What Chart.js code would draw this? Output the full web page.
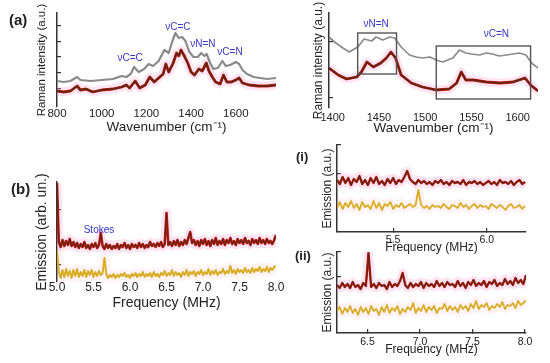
<!DOCTYPE html>
<html>
<head>
<meta charset="utf-8">
<script src="https://cdn.jsdelivr.net/npm/chart.js@4"></script>
<style>
  body { margin: 0; background: #fff; width: 550px; height: 363px; position: relative; overflow: hidden; font-family: 'Liberation Sans', Arial, sans-serif; }
  canvas { position: absolute; }
  .tag { position: absolute; font-weight: bold; color: #222; line-height: 1; }
</style>
</head>
<body>
<canvas id="ramanWide" width="290" height="140" style="left:0;top:0"></canvas>
<canvas id="ramanZoom" width="260" height="140" style="left:290px;top:0"></canvas>
<canvas id="emisB" width="290" height="165" style="left:0;top:150px"></canvas>
<canvas id="emisI" width="260" height="125" style="left:290px;top:135px"></canvas>
<canvas id="emisII" width="260" height="118" style="left:290px;top:245px"></canvas>
<div class="tag" style="left:9px;top:12px;font-size:15px">(a)</div>
<div class="tag" style="left:11px;top:181px;font-size:15px">(b)</div>
<div class="tag" style="left:296px;top:150px;font-size:13px">(i)</div>
<div class="tag" style="left:295px;top:249px;font-size:13px">(ii)</div>
<script>
// ---- (a) full Raman spectrum ----
const wnGrayA = [800, 830, 860, 890, 905, 950, 1000, 1050, 1090, 1110, 1130, 1145, 1165, 1190, 1210, 1230, 1255, 1280, 1300, 1315, 1330, 1345, 1360, 1375, 1390, 1410, 1430, 1445, 1460, 1470, 1485, 1500, 1520, 1540, 1555, 1575, 1600, 1615, 1630, 1650, 1680, 1710, 1740, 1780];
const ramanGrayA = [26, 25, 26, 30, 27, 26, 27, 28, 31, 30, 33, 40, 35, 38, 43, 41, 46, 57, 54, 65, 74, 69, 70, 66, 56, 50, 50, 54, 51, 53, 44, 38, 39, 46, 41, 42, 45, 43, 37, 33, 30, 29, 28, 29];
const wnRedA = [800, 830, 860, 890, 905, 930, 960, 1000, 1050, 1090, 1110, 1125, 1150, 1170, 1195, 1215, 1235, 1255, 1275, 1287, 1300, 1320, 1335, 1345, 1355, 1372, 1385, 1400, 1415, 1435, 1450, 1468, 1480, 1495, 1510, 1530, 1545, 1560, 1580, 1600, 1615, 1630, 1660, 1700, 1740, 1780];
const ramanRedA = [16, 15, 16, 21, 17, 18, 15, 17, 18, 20, 22, 19, 26, 19, 22, 30, 25, 29, 33, 43, 35, 44, 54, 51, 57, 50, 44, 35, 32, 38, 36, 44, 36, 30, 25, 23, 32, 25, 25, 27, 29, 24, 22, 21, 21, 22];
const xTicksA = [800, 1000, 1200, 1400, 1600];
const bandNamesA = ['νC=C', 'νC=C', 'νN=N', 'νC=N'];
const bandWnA = [1127, 1341, 1453, 1574];
const bandLevelA = [49, 80, 63, 55];

// ---- (a) zoomed Raman spectrum ----
const wnGrayZ = [1396, 1402, 1411, 1418, 1427, 1434, 1442, 1447, 1454, 1462, 1467, 1474, 1483, 1490, 1497, 1505, 1512, 1519, 1530, 1537, 1544, 1550, 1559, 1566, 1573, 1580, 1588, 1595, 1602, 1609, 1615, 1622];
const ramanGrayZ = [71, 66, 60, 56, 61, 69, 67, 71, 68, 71, 70, 61, 53, 51, 50, 51, 48, 46, 50, 58, 55, 54, 53, 55, 54, 52, 53, 54, 55, 53, 45, 40];
const wnRedZ = [1396, 1406, 1415, 1426, 1431, 1437, 1444, 1452, 1458, 1463, 1468, 1474, 1485, 1497, 1512, 1526, 1534, 1539, 1544, 1552, 1566, 1581, 1595, 1608, 1614, 1622];
const ramanRedZ = [40, 33, 29, 31, 36, 46, 41, 45, 50, 56, 50, 33, 25, 21, 18, 19, 25, 36, 28, 28, 26, 25, 26, 30, 23, 17];
const xTicksZ = [1400, 1450, 1500, 1550, 1600];
const bandNamesZ = ['νN=N', 'νC=N'];
const bandWnZ = [1447, 1577];
const bandLevelZ = [84, 74];
const boxesZ = [[1427, 1469, 75, 34], [1512, 1614, 62, 9]];

// ---- (b) emission 5.0 - 8.0 MHz ----
const freqStartB = 5.0, freqStepB = 0.025;
const emisRedB = [
  99, 40, 35, 42, 36, 41, 37, 43, 36, 40,
  35, 39, 34, 38, 35, 40, 34, 37, 33, 38,
  35, 39, 34, 37, 49, 36, 33, 38, 34, 37,
  33, 36, 34, 38, 33, 37, 35, 39, 34, 37,
  33, 38, 35, 37, 34, 39, 35, 38, 34, 37,
  35, 40, 36, 38, 35, 39, 36, 40, 35, 38,
  69, 37, 40, 36, 41, 37, 42, 36, 40, 37,
  42, 38, 44, 50, 39, 42, 37, 41, 36, 42,
  38, 43, 37, 41, 36, 42, 38, 44, 37, 41,
  38, 43, 37, 42, 39, 44, 38, 41, 37, 43,
  39, 42, 38, 44, 39, 41, 37, 43, 39, 42,
  38, 44, 39, 42, 38, 43, 39, 41, 38, 42,
  47
];
const emisYellowB = [
  32, 10, 4, 12, 5, 13, 6, 11, 4, 12,
  6, 13, 5, 10, 6, 12, 5, 11, 7, 12,
  5, 10, 6, 11, 7, 9, 24, 8, 4, 7,
  5, 8, 4, 7, 5, 8, 6, 9, 5, 7,
  4, 8, 6, 9, 5, 8, 6, 10, 5, 8,
  6, 9, 5, 10, 6, 8, 5, 9, 7, 11,
  6, 9, 7, 12, 6, 10, 7, 9, 5, 10,
  7, 12, 6, 10, 8, 11, 6, 10, 8, 12,
  7, 10, 8, 13, 7, 11, 8, 12, 7, 10,
  9, 13, 8, 11, 9, 16, 9, 12, 8, 13,
  10, 12, 9, 14, 10, 12, 9, 14, 10, 13,
  11, 15, 10, 13, 11, 15, 10, 14, 12, 15,
  16
];
const xTicksB = [5.0, 5.5, 6.0, 6.5, 7.0, 7.5, 8.0];

// ---- (i) emission 5.2 - 6.2 MHz ----
const freqStartI = 5.2, freqStepI = 0.015;
const emisRedI = [
  52, 48, 55, 49, 54, 47, 53, 50, 56, 48,
  52, 47, 54, 49, 55, 48, 51, 47, 53, 49,
  54, 48, 52, 50, 55, 61, 53, 50, 48, 52,
  49, 51, 48, 50, 47, 51, 49, 52, 48, 50,
  47, 51, 49, 50, 48, 52, 47, 50, 49, 51,
  48, 50, 47, 49, 51, 48, 50, 47, 52, 49,
  50, 48, 51, 47, 50, 52, 48, 50
];
const emisYellowI = [
  24, 30, 23, 29, 25, 31, 24, 28, 22, 30,
  25, 27, 23, 31, 24, 29, 22, 28, 26, 30,
  23, 27, 25, 29, 24, 26, 28, 25, 27, 42,
  27, 24, 26, 23, 27, 25, 26, 24, 28, 25,
  23, 27, 26, 24, 29, 25, 27, 23, 26, 28,
  24, 27, 25, 26, 23, 28, 26, 24, 27, 25,
  22, 26, 28, 24, 25, 27, 23, 26
];
const xTicksI = [5.5, 6.0];

// ---- (ii) emission 6.2 - 8.0 MHz ----
const freqStartII = 6.21, freqStepII = 0.025;
const emisRedII = [
  48, 45, 50, 46, 49, 45, 51, 46, 48, 44,
  50, 47, 80, 46, 49, 45, 50, 47, 48, 44,
  51, 46, 49, 47, 52, 60, 48, 45, 50, 46,
  49, 47, 51, 45, 50, 47, 49, 46, 52, 47,
  50, 46, 51, 48, 49, 46, 52, 47, 50, 45,
  51, 48, 53, 47, 50, 48, 52, 46, 51, 49,
  53, 47, 50, 48, 54, 49, 52, 48, 55, 50,
  53, 49, 58
];
const emisYellowII = [
  22, 26, 19, 25, 21, 27, 20, 24, 18, 26,
  21, 25, 19, 27, 22, 24, 18, 26, 21, 28,
  20, 25, 22, 27, 19, 24, 21, 26, 23, 30,
  20, 25, 22, 28, 21, 26, 23, 27, 20, 25,
  24, 29, 22, 27, 23, 26, 21, 28, 24, 27,
  22, 29, 25, 32, 24, 28, 26, 30, 23, 27,
  25, 29, 26, 31, 24, 28, 27, 30, 25, 32,
  28, 30, 33
];
const xTicksII = [6.5, 7.0, 7.5, 8.0];

Chart.defaults.font.family = "'Liberation Sans', Arial, sans-serif";
Chart.defaults.color = '#222';

const pairs = (xs, ys) => ys.map((v, i) => ({ x: xs[i], y: v }));
const sampled = (start, step, ys) => ys.map((v, i) => ({ x: start + step * i, y: v }));

const GRAY = '#8a8a8a', BROWN = '#6a2410', RED = '#cf1a1a', YELLOW = '#d9ad22';

function trace(data, color, width, order) {
  return { data, borderColor: color, borderWidth: width, pointRadius: 0, fill: false, order, borderJoinStyle: 'round' };
}
const halo = (data, a) => trace(data, 'rgba(255,170,212,' + a + ')', 9, 9);

// blue band names + boxes, placed in data coordinates
const notes = {
  id: 'notes',
  afterDatasetsDraw(chart, args, o) {
    const { ctx, scales: { x, y } } = chart;
    ctx.save();
    ctx.strokeStyle = '#555';
    ctx.lineWidth = 1.4;
    (o.boxes || []).forEach(b => {
      const x0 = x.getPixelForValue(b[0]), x1 = x.getPixelForValue(b[1]);
      const y0 = y.getPixelForValue(b[2]), y1 = y.getPixelForValue(b[3]);
      ctx.strokeRect(x0, y0, x1 - x0, y1 - y0);
    });
    ctx.fillStyle = '#3535c8';
    ctx.font = (o.size || 10) + "px 'Liberation Sans', Arial, sans-serif";
    ctx.textAlign = 'center';
    ctx.textBaseline = 'middle';
    (o.names || []).forEach((t, i) => ctx.fillText(t, x.getPixelForValue(o.xs[i]), y.getPixelForValue(o.ys[i])));
    ctx.restore();
  }
};

function panel(id, p) {
  new Chart(document.getElementById(id), {
    type: 'line',
    data: { datasets: p.datasets },
    plugins: [notes],
    options: {
      responsive: false,
      animation: false,
      layout: { padding: p.pad },
      plugins: { legend: { display: false }, tooltip: { enabled: false }, notes: p.notes || {} },
      scales: {
        x: {
          type: 'linear', min: p.xmin, max: p.xmax,
          afterBuildTicks: s => { s.ticks = p.xticks.map(v => ({ value: v })); },
          afterFit: s => { s.height = p.xh; },
          ticks: { font: { size: p.tickSize }, padding: p.tickPad, callback: v => p.dec ? v.toFixed(p.dec) : String(v) },
          grid: { display: p.xline, drawOnChartArea: false, drawTicks: p.xline, tickLength: -4, color: '#333', lineWidth: 1.2 },
          border: { display: p.xline, color: '#333', width: 1.5 },
          title: { display: true, text: p.xtitle, font: { size: p.xtSize }, padding: { top: 0, bottom: 0 } }
        },
        y: {
          min: 0, max: p.ymax,
          afterBuildTicks: s => { s.ticks = p.yticks.map(v => ({ value: v })); },
          afterFit: s => { s.width = p.yw; },
          ticks: { display: false },
          grid: { display: true, drawOnChartArea: false, drawTicks: true, tickLength: -4, color: '#333', lineWidth: 1.2 },
          border: { display: true, color: '#333', width: 1.5 },
          title: { display: true, text: p.ytitle, font: { size: p.ytSize }, padding: { top: 1, bottom: 0 } }
        }
      }
    }
  });
}

const grayA = pairs(wnGrayA, ramanGrayA), redA = pairs(wnRedA, ramanRedA);
panel('ramanWide', {
  datasets: [trace(redA, BROWN, 2, 0), trace(redA, RED, 2.8, 1), trace(grayA, GRAY, 2.2, 2), halo(redA, 0.3)],
  pad: { left: 34, top: 13, right: 14, bottom: 4.9 },
  xmin: 800, xmax: 1780, xticks: xTicksA, xh: 28.1, tickSize: 11.5, tickPad: 0, xline: false,
  xtitle: 'Wavenumber (cm⁻¹)', xtSize: 13.5,
  ymax: 94, yticks: [18, 34, 50, 65, 81], yw: 23, ytitle: 'Raman intensity (a.u.)', ytSize: 11.5,
  notes: { names: bandNamesA, xs: bandWnA, ys: bandLevelA, size: 10 }
});

const grayZ = pairs(wnGrayZ, ramanGrayZ), redZ = pairs(wnRedZ, ramanRedZ);
panel('ramanZoom', {
  datasets: [trace(redZ, BROWN, 2, 0), trace(redZ, RED, 2.8, 1), trace(grayZ, GRAY, 1.7, 2), halo(redZ, 0.3)],
  pad: { left: 20, top: 13, right: 12, bottom: 3.9 },
  xmin: 1396, xmax: 1622, xticks: xTicksZ, xh: 28.1, tickSize: 11, tickPad: 3, xline: false,
  xtitle: 'Wavenumber (cm⁻¹)', xtSize: 13.5,
  ymax: 95, yticks: [10, 66], yw: 19, ytitle: 'Raman intensity (a.u.)', ytSize: 12,
  notes: { names: bandNamesZ, xs: bandWnZ, ys: bandLevelZ, size: 10, boxes: boxesZ }
});

const redB = sampled(freqStartB, freqStepB, emisRedB), yelB = sampled(freqStartB, freqStepB, emisYellowB);
panel('emisB', {
  datasets: [trace(redB, BROWN, 1.3, 0), trace(redB, RED, 2.6, 1), trace(yelB, YELLOW, 2, 2), halo(redB, 0.3), halo(yelB, 0.15)],
  pad: { left: 33, top: 32, right: 14, bottom: 3.6 },
  xmin: 5.0, xmax: 8.0, xticks: xTicksB, dec: 1, xh: 29.4, tickSize: 12, tickPad: -2, xline: false,
  xtitle: 'Frequency (MHz)', xtSize: 14,
  ymax: 100, yticks: [17, 72], yw: 24, ytitle: 'Emission (arb. un.)', ytSize: 14,
  notes: { names: ['Stokes'], xs: [5.575], ys: [52], size: 10 }
});

const redI = sampled(freqStartI, freqStepI, emisRedI), yelI = sampled(freqStartI, freqStepI, emisYellowI);
panel('emisI', {
  datasets: [trace(redI, BROWN, 1.5, 0), trace(redI, RED, 2.4, 1), trace(yelI, YELLOW, 1.8, 2), halo(redI, 0.3), halo(yelI, 0.15)],
  pad: { left: 29, top: 10, right: 24, bottom: 4.8 },
  xmin: 5.2, xmax: 6.21, xticks: xTicksI, dec: 1, xh: 23.2, tickSize: 10.5, tickPad: 5.5, xline: true,
  xtitle: 'Frequency (MHz)', xtSize: 12,
  ymax: 87, yticks: [58, 87], yw: 18, ytitle: 'Emission (a.u.)', ytSize: 12
});

const redII = sampled(freqStartII, freqStepII, emisRedII), yelII = sampled(freqStartII, freqStepII, emisYellowII);
panel('emisII', {
  datasets: [trace(redII, BROWN, 1.4, 0), trace(redII, RED, 2.4, 1), trace(yelII, YELLOW, 1.8, 2), halo(redII, 0.3), halo(yelII, 0.15)],
  pad: { left: 29, top: 7, right: 24, bottom: 5.8 },
  xmin: 6.21, xmax: 8.01, xticks: xTicksII, dec: 1, xh: 24.2, tickSize: 10.5, tickPad: 7, xline: true,
  xtitle: 'Frequency (MHz)', xtSize: 12,
  ymax: 81, yticks: [56, 81], yw: 18, ytitle: 'Emission (a.u.)', ytSize: 12
});
</script>
</body>
</html>
